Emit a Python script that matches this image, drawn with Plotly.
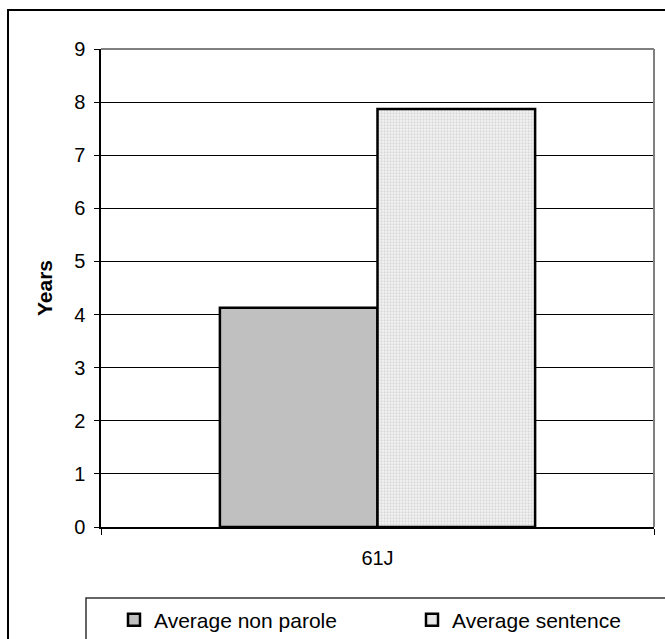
import plotly.graph_objects as go

categories = ["61J"]
non_parole = [4.13]
sentence = [7.87]
series_names = ["Average non parole", "Average sentence"]
y_ticks = [0, 1, 2, 3, 4, 5, 6, 7, 8, 9]

FONT = "Arial, 'Liberation Sans', sans-serif"

fig = go.Figure()
fig.add_trace(go.Bar(
    x=categories, y=non_parole, name=series_names[0], legend="legend",
    marker=dict(color="#C0C0C0", line=dict(color="black", width=2.5)),
))
fig.add_trace(go.Bar(
    x=categories, y=sentence, name=series_names[1], legend="legend2",
    marker=dict(color="#F2F2F2", line=dict(color="black", width=2.5),
                pattern=dict(shape=".", fgcolor="#BDBDBD", bgcolor="#F4F4F4",
                             size=3, solidity=0.45)),
))

L, R, T, B = 101, 11, 49, 112
W, H = 665, 639
pw, ph = W - L - R, H - T - B

def px(x):
    return (x - L) / pw

def py(y):
    return (H - B - y) / ph

shapes = [
    dict(type="rect", xref="paper", yref="paper", x0=px(8), x1=px(700), y0=py(10), y1=py(700),
         line=dict(color="black", width=2), fillcolor="rgba(0,0,0,0)", layer="below"),
    dict(type="line", xref="paper", yref="paper", x0=0, x1=1, y0=1, y1=1,
         line=dict(color="#808080", width=2)),
    dict(type="line", xref="paper", yref="paper", x0=1, x1=1, y0=0, y1=1,
         line=dict(color="#808080", width=2)),
    dict(type="rect", xref="paper", yref="paper", x0=px(86), x1=px(700), y0=py(598), y1=py(700),
         line=dict(color="#333333", width=1.5), fillcolor="rgba(0,0,0,0)", layer="below"),
]

leg_common = dict(orientation="h", xanchor="left", yanchor="middle", y=py(620),
                  font=dict(family=FONT, size=21, color="black"),
                  bgcolor="rgba(0,0,0,0)", borderwidth=0)

fig.update_layout(
    width=W, height=H,
    margin=dict(l=L, r=R, t=T, b=B, pad=0, autoexpand=False),
    paper_bgcolor="white", plot_bgcolor="white",
    font=dict(family=FONT, size=20, color="black"),
    barmode="group", bargap=0.43, bargroupgap=0,
    showlegend=True,
    legend=dict(x=px(114), **leg_common),
    legend2=dict(x=px(412), **leg_common),
    shapes=shapes,
    xaxis=dict(type="category", range=[-0.5, 0.5], showgrid=False,
               showline=True, linecolor="black", linewidth=1.5,
               ticks="outside", ticklen=6, tickcolor="black", tickson="boundaries",
               ticklabelstandoff=12, tickfont=dict(size=20)),
    yaxis=dict(range=[0, 9], tickvals=y_ticks, showgrid=True, gridcolor="black", gridwidth=1,
               showline=True, linecolor="black", linewidth=1.5, zeroline=False,
               ticks="outside", ticklen=5, tickcolor="black", ticklabelstandoff=5,
               tickfont=dict(size=20),
               title=dict(text="<b>Years</b>", standoff=16, font=dict(size=21))),
)

fig.write_html("out.html")
